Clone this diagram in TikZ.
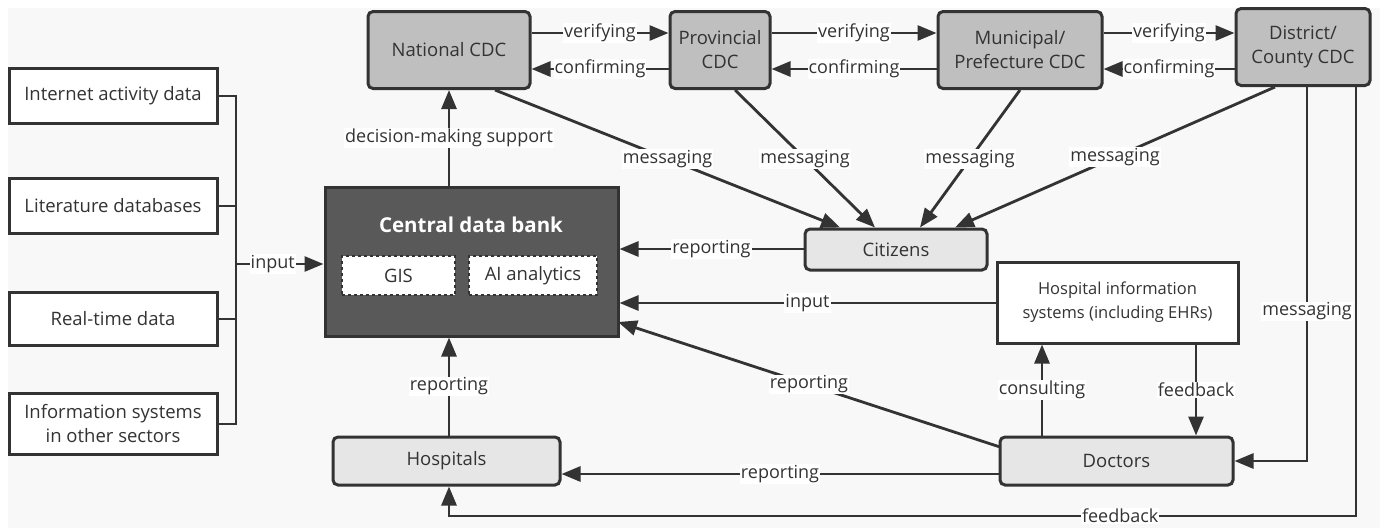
\documentclass[tikz,border=0pt]{standalone}
\usepackage{fontspec}
\setmainfont{Open Sans}
\usetikzlibrary{arrows.meta}
\definecolor{bg}{HTML}{F8F8F8}
\definecolor{lc}{HTML}{333333}
\definecolor{cdcfill}{HTML}{BFBFBF}
\definecolor{lightfill}{HTML}{E6E6E6}
\definecolor{bankfill}{HTML}{595959}
\begin{document}
\begin{tikzpicture}[x=1pt,y=-1pt,
  every node/.style={text=lc},
  cdc/.style={draw=lc, line width=3pt, fill=cdcfill, rounded corners=5pt, minimum height=77pt, align=center, inner sep=0pt, font=\fontsize{18.5}{24}\selectfont},
  src/.style={draw=lc, line width=3pt, fill=white, minimum width=208pt, align=center, inner sep=0pt, font=\fontsize{18.5}{24}\selectfont},
  actor/.style={draw=lc, line width=3pt, fill=lightfill, rounded corners=5pt, minimum height=48pt, inner sep=0pt, font=\fontsize{18.5}{24}\selectfont},
  sub/.style={draw=lc, dashed, line width=2pt, fill=white, minimum height=39pt, inner sep=0pt, font=\fontsize{18.5}{24}\selectfont},
  conn/.style={line width=2.8pt, draw=lc},
  arr/.style={conn, -{Triangle[length=19pt,width=15pt]}},
  lab/.style={fill=white, inner sep=1pt, text=lc, font=\fontsize{18}{20}\selectfont},
  slab/.style={fill=white, inner sep=1pt, text=lc, font=\fontsize{18}{20}\selectfont}
]
\useasboundingbox (0,0) rectangle (1380,528);
\fill[white] (0,0) rectangle (1380,528);
\fill[bg] (8,8) rectangle (1380,528);

% CDC row
\node[cdc, minimum width=162pt] (nat) at (449,50) {National CDC};
\node[cdc, minimum width=100pt] (prov) at (720,50) {Provincial\\CDC};
\node[cdc, minimum width=164pt] (mun) at (1020,50) {Municipal/\\Prefecture CDC};
\node[cdc, minimum width=134pt] (dist) at (1303,47) {District/\\County CDC};

% sources
\node[src, minimum height=55pt] (ind) at (113,96) {Internet activity data};
\node[src, minimum height=55pt] (lit) at (113,206) {Literature databases};
\node[src, minimum height=53pt] (rtd) at (113,319) {Real-time data};
\node[src, minimum height=61pt] (isys) at (113,424) {Information systems\\in other sectors};

% central data bank
\node[draw=lc, line width=3pt, fill=bankfill, minimum width=293pt, minimum height=149pt, inner sep=0pt] (cdb) at (471.5,261.5) {};
\node[text=white, font=\fontsize{20.5}{24}\selectfont\bfseries] (cdbt) at (471,225) {Central data bank};
\node[sub, minimum width=113pt] (gis) at (398.5,275.5) {GIS};
\node[sub, minimum width=128pt] (ai) at (533,275.5) {AI analytics};

% actors
\node[actor, minimum width=182pt, minimum height=41pt] (cit) at (896,249.5) {Citizens};
\node[draw=lc, line width=3pt, fill=white, minimum width=241pt, minimum height=81pt, align=center, inner sep=0pt, font=\fontsize{16.5}{24}\selectfont] (his) at (1117.5,302.5) {Hospital information\\systems (including EHRs)};
\node[actor, minimum width=227pt] (hosp) at (446.5,461) {Hospitals};
\node[actor, minimum width=233pt] (doc) at (1116.5,461) {Doctors};

% verifying / confirming
\draw[arr] (nat.east |- 0,33) -- node[slab]{verifying} (prov.west |- 0,33);
\draw[arr] (prov.west |- 0,69) -- node[slab]{confirming} (nat.east |- 0,69);
\draw[arr] (prov.east |- 0,33) -- node[slab]{verifying} (mun.west |- 0,33);
\draw[arr] (mun.west |- 0,69) -- node[slab]{confirming} (prov.east |- 0,69);
\draw[arr] (mun.east |- 0,33) -- node[slab]{verifying} (dist.west |- 0,33);
\draw[arr] (dist.west |- 0,69) -- node[slab]{confirming} (mun.east |- 0,69);

% messaging to citizens
\draw[arr] (nat.south -| 495,0) -- node[lab]{messaging} (cit.north -| 840,0);
\draw[arr] (prov.south -| 735,0) -- node[lab]{messaging} (cit.north -| 875,0);
\draw[arr] (mun.south -| 1020,0) -- node[lab]{messaging} (cit.north -| 920,0);
\draw[arr] (dist.south -| 1275,0) -- node[lab]{messaging} (cit.north -| 955,0);

% sources bracket
\coordinate (bus) at (236,264);
\draw[conn] (ind.east) -- (ind.east -| bus) -- (isys.east -| bus) -- (isys.east);
\draw[conn] (lit.east) -- (lit.east -| bus);
\draw[conn] (rtd.east) -- (rtd.east -| bus);
\draw[arr] (bus) -- node[slab, pos=0.42]{input} (cdb.west |- bus);

% central data bank links
\draw[arr] (cdb.north -| nat.south) -- node[lab]{decision-making support} (nat.south);
\draw[arr] (cit.west |- 0,249) -- node[lab]{reporting} (cdb.east |- 0,249);
\draw[arr] (his.west |- 0,303) -- node[lab]{input} (cdb.east |- 0,303);
\coordinate (docrep) at (1000,447);
\coordinate (cdbrep) at (618,322);
\draw[arr] (docrep) -- node[lab]{reporting} (cdbrep);
\draw[arr] (hosp.north -| nat.south) -- node[lab]{reporting} (cdb.south -| nat.south);

% doctors / HIS
\draw[arr] (doc.north -| 1042,0) -- node[lab]{consulting} (his.south -| 1042,0);
\draw[arr] (his.south -| 1196,0) -- node[lab]{feedback} (doc.north -| 1196,0);
\draw[arr] (doc.west |- 0,474) -- node[lab]{reporting} (hosp.east |- 0,474);

% district links
\coordinate (m1) at (1307,461);
\draw[arr] (dist.south -| m1) -- node[lab, pos=0.6]{messaging} (m1) -- (doc.east |- m1);
\coordinate (f1) at (1356,516);
\coordinate (f2) at (449,516);
\draw[arr] (dist.south -| f1) -- (f1) -- node[lab, pos=0.26]{feedback} (f2) -- (hosp.south -| f2);
\end{tikzpicture}
\end{document}
